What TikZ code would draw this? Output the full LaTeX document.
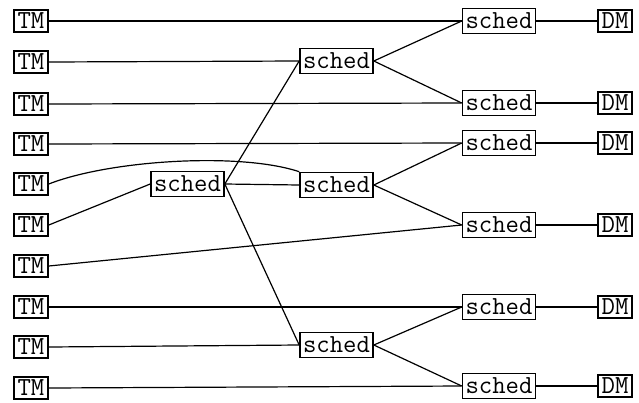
\documentclass[tikz,border=0pt]{standalone}
\usepackage{fontspec}
\begin{document}
\begin{tikzpicture}[x=1pt,y=-1pt,
  box/.style={draw,line width=1.6pt,inner sep=0pt,font=\ttfamily\fontsize{26}{26}\selectfont},
  sbox/.style={box,minimum width=73pt,minimum height=25pt},
  tbox/.style={box,minimum width=34pt,minimum height=22pt},
  wire/.style={line width=1.2pt}]
\useasboundingbox (0,0) rectangle (639,402);
% TM column
\foreach \i/\y in {1/21,2/62,3/104,4/144,5/184,6/225,7/266,8/307,9/347,10/388}
  \node[tbox] (TM\i) at (31,\y) {TM};
% sched A
\node[sbox] (A) at (187.5,184) {sched};
% sched B column
\node[sbox] (B1) at (336.5,61) {sched};
\node[sbox] (B2) at (336.5,185) {sched};
\node[sbox] (B3) at (336.5,345) {sched};
% sched C column and DM
\foreach \i/\y in {1/21,2/103,3/143,4/225,5/307,6/386} {
  \node[sbox] (C\i) at (499,\y) {sched};
  \node[tbox] (DM\i) at (615,\y) {DM};
  \draw[wire] (C\i.east) -- (DM\i.west);
}
% connections
\draw[wire] (TM1.east) -- (C1.west);
\draw[wire] (TM2.east) -- (B1.west);
\draw[wire] (B1.east) -- (C1.west);
\draw[wire] (B1.east) -- (C2.west);
\draw[wire] (TM3.east) -- (C2.west);
\draw[wire] (TM4.east) -- (C3.west);
\draw[wire] (TM5.east) .. controls (110,160) and (240,152) .. (B2.north west);
\draw[wire] (TM6.east) -- (A.west);
\draw[wire] (A.east) -- (B1.west);
\draw[wire] (A.east) -- (B2.west);
\draw[wire] (A.east) -- (B3.west);
\draw[wire] (B2.east) -- (C3.west);
\draw[wire] (B2.east) -- (C4.west);
\draw[wire] (TM7.east) -- (C4.west);
\draw[wire] (TM8.east) -- (C5.west);
\draw[wire] (TM9.east) -- (B3.west);
\draw[wire] (B3.east) -- (C5.west);
\draw[wire] (B3.east) -- (C6.west);
\draw[wire] (TM10.east) -- (C6.west);
\end{tikzpicture}
\end{document}
